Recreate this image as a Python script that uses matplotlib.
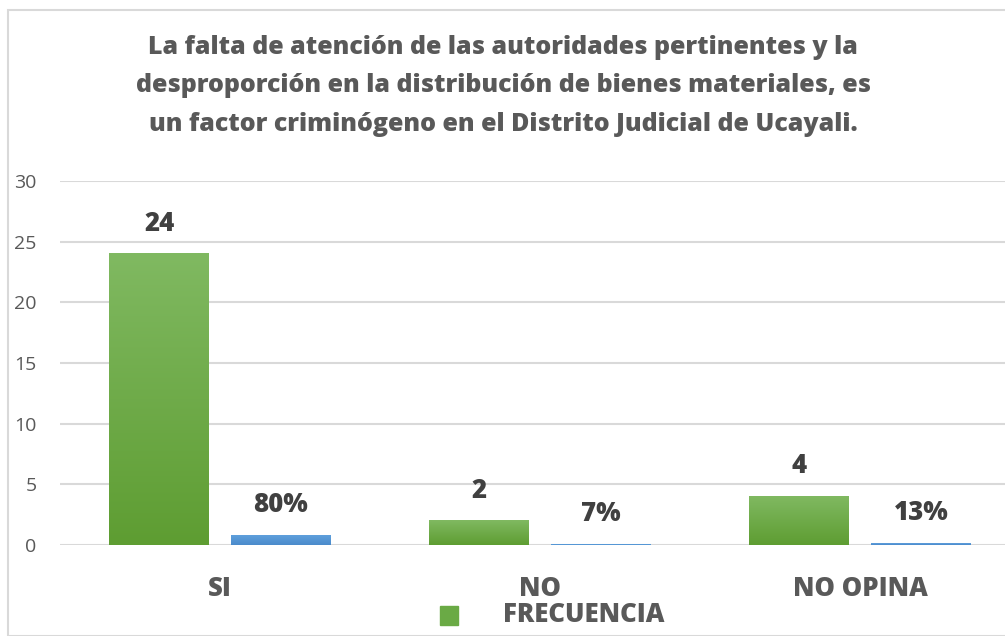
import numpy as np
import matplotlib
matplotlib.use("Agg")
import matplotlib.pyplot as plt
from matplotlib.patches import Rectangle

categorias = ["SI", "NO", "NO OPINA"]
frecuencia = [24, 2, 4]
porcentaje = [0.80, 0.07, 0.13]
etiq_frec = ["24", "2", "4"]
etiq_porc = ["80%", "7%", "13%"]

titulo = ("La falta de atención de las autoridades pertinentes y la\n"
          "desproporción en la distribución de bienes materiales, es\n"
          "un factor criminógeno en el Distrito Judicial de Ucayali.")

gris = "#595959"
plt.rcParams['font.family'] = ['Open Sans', 'DejaVu Sans']
negrita = 800

fig = plt.figure(figsize=(10.05, 6.36), dpi=100)
W, H = 1005, 636

# marco del grafico
fig.patches.append(Rectangle((8 / W, 0), 1.2, 1 - 10 / H, transform=fig.transFigure,
                             fill=False, edgecolor="#d9d9d9", linewidth=1.5))

ax = fig.add_axes([60 / W, 1 - 545 / H, 960 / W, 364 / H])
ax.set_xlim(-0.5, 2.5)
ax.set_ylim(0, 30)
ax.set_yticks([0, 5, 10, 15, 20, 25, 30])
ax.grid(axis="y", color="#d9d9d9", linewidth=1.5)
ax.set_axisbelow(True)
for s in ax.spines.values():
    s.set_visible(False)
ax.tick_params(axis="y", length=0, pad=17, labelsize=14, labelcolor=gris)
ax.tick_params(axis="x", length=0, pad=22)
ax.set_xticks(range(len(categorias)))
ax.set_xticklabels(categorias, fontsize=18.5, fontweight=negrita, color=gris)

x = np.arange(len(categorias))
ancho = 0.3125
desp = 0.19


def barra_degradada(xc, h, c_top, c_bot):
    grad = np.linspace(0, 1, 100).reshape(-1, 1)
    ct = np.array(matplotlib.colors.to_rgb(c_top))
    cb = np.array(matplotlib.colors.to_rgb(c_bot))
    img = ct + (cb - ct) * grad[..., None]
    img = img.reshape(100, 1, 3)
    ax.imshow(img, extent=(xc - ancho / 2, xc + ancho / 2, 0, h), aspect="auto",
              origin="upper", zorder=3, interpolation="bilinear")


for i in range(len(categorias)):
    barra_degradada(x[i] - desp, frecuencia[i], "#80b961", "#5e9d32")
    barra_degradada(x[i] + desp, porcentaje[i], "#5fa0dc", "#4a8acb")
    ax.annotate(etiq_frec[i], (x[i] - desp, frecuencia[i]), xytext=(0, 30),
                textcoords="offset pixels", ha="center", va="center",
                fontsize=18.5, fontweight=negrita, color="#404040")
    ax.annotate(etiq_porc[i], (x[i] + desp, porcentaje[i]), xytext=(0, 30),
                textcoords="offset pixels", ha="center", va="center",
                fontsize=18.5, fontweight=negrita, color="#404040")
ax.set_xlim(-0.5, 2.5)
ax.set_ylim(0, 30)

fig.text(503 / W, 1 - 86 / H, titulo, ha="center", va="center", fontsize=18,
         fontweight=negrita, color=gris, linespacing=1.73)

# leyenda
fig.patches.append(Rectangle((440 / W, 1 - 625 / H), 18 / W, 19 / H,
                             transform=fig.transFigure, color="#6aaa45"))
fig.text(503 / W, 1 - 615 / H, "FRECUENCIA", ha="left", va="center",
         fontsize=18.5, fontweight=negrita, color=gris)

fig.savefig("out.png", dpi=100)
